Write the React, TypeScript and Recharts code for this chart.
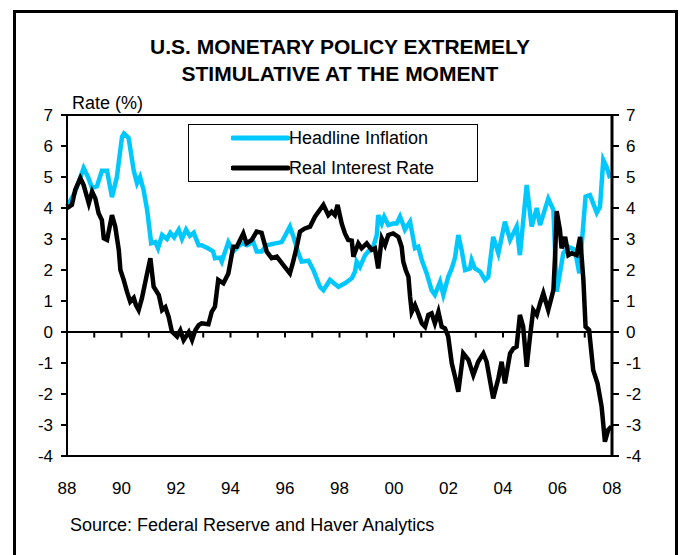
import { Legend, Line, LineChart, ReferenceLine, XAxis, YAxis } from "recharts";

const FONT = "'Liberation Sans', Arial, sans-serif";

// [year on the axis, percent]
const inflationPts: [number, number][] = [
  [1988.0, 4.05], [1988.29, 4.5], [1988.61, 5.29], [1988.77, 5.0], [1988.92, 4.65], [1989.1, 4.7],
  [1989.28, 5.2], [1989.47, 5.2], [1989.65, 4.35], [1989.83, 5.0], [1990.02, 6.3], [1990.09, 6.4],
  [1990.26, 6.26], [1990.45, 5.2], [1990.57, 4.8], [1990.68, 5.0], [1990.81, 4.58], [1990.94, 3.94],
  [1991.09, 2.86], [1991.24, 2.9], [1991.34, 2.7], [1991.49, 3.13], [1991.67, 3.0], [1991.79, 3.2],
  [1991.93, 3.05], [1992.1, 3.3], [1992.22, 3.0], [1992.37, 3.3], [1992.51, 3.1], [1992.65, 3.2],
  [1992.83, 2.8], [1992.94, 2.8], [1993.17, 2.7], [1993.36, 2.6], [1993.43, 2.38], [1993.61, 2.4],
  [1993.68, 2.27], [1993.92, 2.9], [1994.1, 2.6], [1994.41, 2.87], [1994.61, 2.8], [1994.84, 2.9],
  [1994.96, 2.6], [1995.14, 2.6], [1995.33, 2.8], [1995.6, 2.85], [1995.88, 2.9], [1996.18, 3.4],
  [1996.3, 3.1], [1996.49, 2.55], [1996.61, 2.27], [1996.86, 2.3], [1997.04, 2.0], [1997.28, 1.46],
  [1997.41, 1.35], [1997.65, 1.68], [1997.83, 1.55], [1997.96, 1.46], [1998.2, 1.57], [1998.45, 1.73],
  [1998.57, 1.95], [1998.63, 2.27], [1998.75, 2.1], [1998.94, 2.48], [1999.06, 2.6], [1999.24, 2.75],
  [1999.37, 3.13], [1999.42, 3.77], [1999.55, 3.5], [1999.64, 3.72], [1999.79, 3.45], [1999.97, 3.5],
  [2000.1, 3.5], [2000.22, 3.72], [2000.34, 3.45], [2000.4, 3.3], [2000.59, 3.56], [2000.77, 2.7],
  [2000.89, 2.75], [2001.02, 2.32], [2001.2, 1.89], [2001.38, 1.35], [2001.5, 1.2], [2001.69, 1.62],
  [2001.81, 1.2], [2001.99, 1.78], [2002.12, 2.05], [2002.24, 2.4], [2002.36, 3.13], [2002.48, 2.65],
  [2002.61, 2.0], [2002.79, 2.05], [2002.85, 2.32], [2002.97, 2.05], [2003.16, 1.95], [2003.34, 1.68],
  [2003.46, 1.78], [2003.64, 3.07], [2003.83, 2.54], [2004.07, 3.56], [2004.26, 2.97], [2004.5, 3.4],
  [2004.62, 2.48], [2004.87, 4.74], [2005.05, 3.4], [2005.24, 4.0], [2005.36, 3.45], [2005.66, 4.3],
  [2005.85, 3.94], [2005.97, 1.3], [2006.09, 1.89], [2006.21, 2.54], [2006.4, 2.75], [2006.64, 2.65],
  [2006.8, 1.89], [2006.95, 3.5], [2007.03, 4.37], [2007.19, 4.42], [2007.44, 3.85], [2007.56, 4.04],
  [2007.68, 5.55], [2007.8, 5.33], [2007.93, 4.96],
];

const realRatePts: [number, number][] = [
  [1988.0, 4.0], [1988.18, 4.1], [1988.3, 4.58], [1988.49, 4.96], [1988.61, 4.74], [1988.8, 4.15],
  [1988.92, 4.53], [1989.04, 4.31], [1989.16, 3.83], [1989.28, 3.61], [1989.35, 3.02], [1989.47, 2.97],
  [1989.65, 3.77], [1989.77, 3.4], [1989.9, 2.65], [1989.96, 2.0], [1990.08, 1.68], [1990.2, 1.3],
  [1990.32, 0.98], [1990.45, 1.1], [1990.53, 0.87], [1990.63, 0.71], [1990.75, 1.09], [1990.94, 1.89],
  [1991.06, 2.38], [1991.18, 1.46], [1991.37, 1.19], [1991.49, 0.71], [1991.61, 0.8], [1991.73, 0.49],
  [1991.85, 0.01], [1992.04, -0.15], [1992.16, 0.05], [1992.28, -0.26], [1992.47, 0.0], [1992.59, -0.26],
  [1992.71, 0.06], [1992.83, 0.22], [1992.94, 0.28], [1993.19, 0.25], [1993.31, 0.65], [1993.43, 0.82],
  [1993.55, 1.68], [1993.74, 1.57], [1993.92, 1.89], [1994.1, 2.75], [1994.23, 2.75], [1994.47, 3.18],
  [1994.59, 2.86], [1994.78, 2.97], [1994.96, 3.24], [1995.14, 3.2], [1995.33, 2.59], [1995.51, 2.38],
  [1995.7, 2.43], [1995.94, 2.16], [1996.18, 1.89], [1996.3, 2.27], [1996.43, 2.75], [1996.55, 3.24],
  [1996.73, 3.34], [1996.92, 3.4], [1997.1, 3.72], [1997.41, 4.1], [1997.59, 3.77], [1997.71, 3.88],
  [1997.83, 3.77], [1997.93, 4.1], [1998.08, 3.5], [1998.2, 3.18], [1998.32, 2.97], [1998.45, 2.95],
  [1998.51, 2.43], [1998.69, 2.86], [1998.81, 2.7], [1999.0, 2.86], [1999.18, 2.65], [1999.3, 2.7],
  [1999.42, 2.05], [1999.55, 3.02], [1999.67, 2.8], [1999.79, 3.13], [1999.97, 3.18], [2000.16, 3.07],
  [2000.28, 2.75], [2000.34, 2.27], [2000.43, 2.0], [2000.53, 1.78], [2000.59, 1.14], [2000.65, 0.65],
  [2000.77, 0.87], [2000.89, 0.6], [2001.02, 0.28], [2001.14, 0.17], [2001.26, 0.55], [2001.38, 0.6],
  [2001.5, 0.28], [2001.63, 0.65], [2001.75, 0.17], [2001.87, 0.12], [2001.99, -0.15], [2002.12, -1.01],
  [2002.24, -1.44], [2002.36, -1.93], [2002.54, -0.69], [2002.73, -0.9], [2002.91, -1.39], [2003.09, -0.96],
  [2003.28, -0.69], [2003.4, -0.96], [2003.52, -1.55], [2003.64, -2.14], [2003.83, -1.49], [2003.95, -0.96],
  [2004.07, -1.66], [2004.26, -0.69], [2004.38, -0.53], [2004.5, -0.47], [2004.62, 0.55], [2004.74, 0.17],
  [2004.87, -1.12], [2004.99, -0.15], [2005.11, 0.71], [2005.24, 0.55], [2005.36, 0.92], [2005.48, 1.25],
  [2005.66, 0.71], [2005.85, 1.35], [2005.91, 2.43], [2005.97, 3.9], [2006.09, 3.29], [2006.15, 2.7],
  [2006.28, 3.07], [2006.4, 2.48], [2006.52, 2.54], [2006.7, 2.48], [2006.83, 3.07], [2006.95, 1.68],
  [2007.03, 0.17], [2007.16, 0.06], [2007.31, -1.23], [2007.47, -1.66], [2007.62, -2.41], [2007.74, -3.54],
  [2007.86, -3.16], [2007.98, -3.05],
];

const yTicks = [-4, -3, -2, -1, 0, 1, 2, 3, 4, 5, 6, 7];
const yearLabels = [1988, 1990, 1992, 1994, 1996, 1998, 2000, 2002, 2004, 2006, 2008];
const yearTicks = Array.from({ length: 21 }, (_, i) => 1988 + i);

const inflation = inflationPts.map(([t, v]) => ({ t, v }));
const realRate = realRatePts.map(([t, v]) => ({ t, v }));

const CYAN = "#00C8FF";

function LegendBox({ payload }: any) {
  return (
    <div style={{ position: "relative", width: 290, height: 58, boxSizing: "border-box", border: "1px solid #000", background: "#fff", fontFamily: FONT }}>
      {(payload || []).map((p: any, i: number) => (
        <div key={p.value} style={{ position: "absolute", left: 0, top: 2 + i * 30, height: 22, width: 288 }}>
          <svg width={60} height={22} style={{ position: "absolute", left: 42, top: 0 }}>
            <line x1={2} x2={57} y1={11} y2={11} stroke={p.color} strokeWidth={5} strokeLinecap="round" />
          </svg>
          <span style={{ position: "absolute", left: 100, top: 0, lineHeight: "22px", fontSize: 18, color: "#000", whiteSpace: "nowrap" }}>{p.value}</span>
        </div>
      ))}
    </div>
  );
}

export default function App() {
  const tickStyle = { fontSize: 17, fill: "#000", fontFamily: FONT };
  return (
    <div style={{ position: "fixed", left: 0, top: 0, width: 680, height: 555, overflow: "hidden", background: "#fff" }}>
      <div style={{ position: "absolute", left: 13, top: 10, width: 659, height: 560, border: "3px solid #000", background: "#fff", fontFamily: FONT, color: "#000" }}>
        <div style={{ position: "absolute", top: 20, left: 0, width: 648, textAlign: "center", fontWeight: "bold", fontSize: 21, lineHeight: "27px" }}>
          U.S. MONETARY POLICY EXTREMELY
          <br />
          STIMULATIVE AT THE MOMENT
        </div>
        <div style={{ position: "absolute", top: 80, left: 56, fontSize: 18, lineHeight: "20px" }}>Rate (%)</div>
        <div style={{ position: "absolute", top: 502, left: 54, fontSize: 18, lineHeight: "20px" }}>Source: Federal Reserve and Haver Analytics</div>
        <div style={{ position: "absolute", left: 0, top: 0 }}>
          <LineChart width={659} height={540} margin={{ top: 102, right: 13, bottom: 57, left: 0 }}>
            <XAxis
              dataKey="t"
              type="number"
              domain={[1988, 2008]}
              ticks={yearLabels}
              tickFormatter={(v: number) => String(v % 100).padStart(2, "0")}
              tickLine={false}
              tickSize={0}
              tickMargin={26}
              height={40}
              axisLine={{ stroke: "#000", strokeWidth: 2 }}
              tick={tickStyle}
              allowDecimals={false}
            />
            <YAxis
              yAxisId="left"
              type="number"
              domain={[-4, 7]}
              ticks={yTicks}
              width={51}
              tickSize={6}
              tickMargin={8}
              axisLine={{ stroke: "#000", strokeWidth: 2 }}
              tickLine={{ stroke: "#000", strokeWidth: 2 }}
              tick={tickStyle}
            />
            <YAxis
              yAxisId="right"
              orientation="right"
              type="number"
              domain={[-4, 7]}
              ticks={yTicks}
              width={50}
              tickSize={7}
              tickMargin={7}
              axisLine={{ stroke: "#000", strokeWidth: 3 }}
              tickLine={{ stroke: "#000", strokeWidth: 2 }}
              tick={tickStyle}
            />
            <ReferenceLine yAxisId="left" y={7} stroke="#000" strokeWidth={2} />
            <ReferenceLine yAxisId="left" y={0} stroke="#000" strokeWidth={2} />
            {yearTicks.map((yr) => (
              <ReferenceLine
                key={yr}
                yAxisId="left"
                segment={[{ x: yr, y: 0 }, { x: yr, y: -0.18 }]}
                stroke="#000"
                strokeWidth={2}
              />
            ))}
            <Line
              yAxisId="right"
              data={inflation}
              dataKey="v"
              name="Headline Inflation"
              stroke={CYAN}
              strokeWidth={4.5}
              dot={false}
              type="linear"
              isAnimationActive={false}
            />
            <Line
              yAxisId="left"
              data={realRate}
              dataKey="v"
              name="Real Interest Rate"
              stroke="#000"
              strokeWidth={4.5}
              dot={false}
              type="linear"
              isAnimationActive={false}
            />
            <Legend
              layout="horizontal"
              verticalAlign="middle"
              align="center"
              content={<LegendBox />}
              wrapperStyle={{ left: 172, top: 111, width: 290, height: 58 }}
            />
          </LineChart>
        </div>
      </div>
    </div>
  );
}
